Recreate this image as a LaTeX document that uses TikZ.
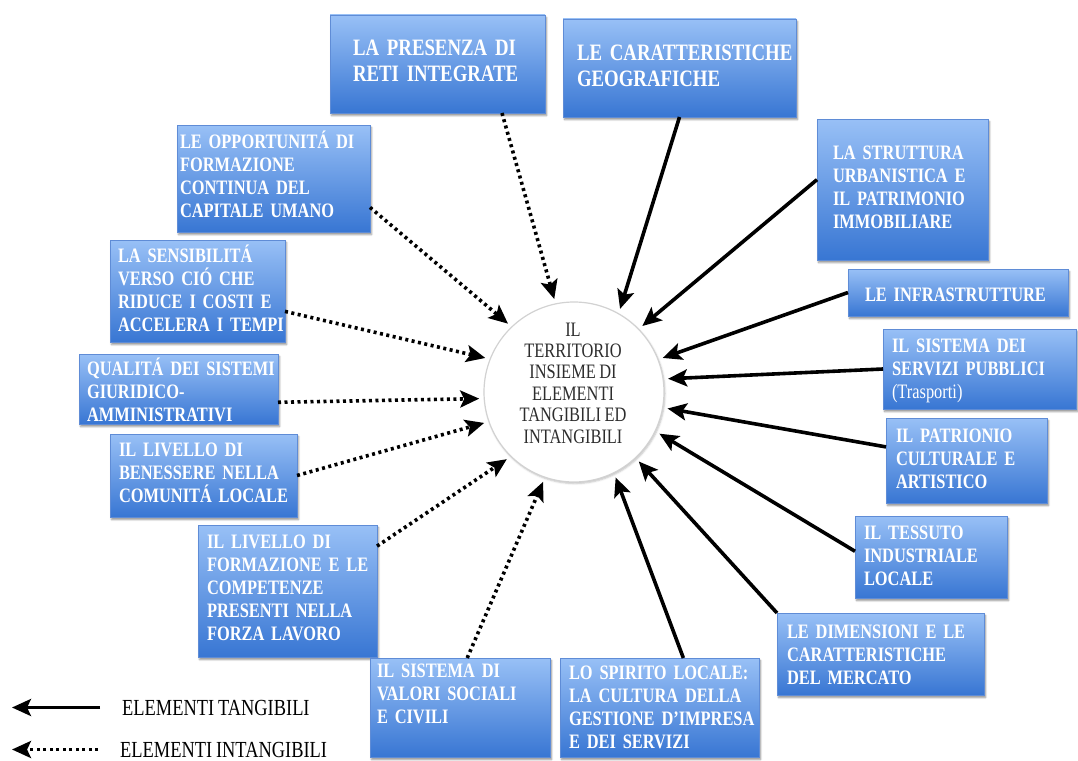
\documentclass[tikz,border=0pt]{standalone}
\usepackage{fontspec}
\setmainfont{Liberation Serif}
\newfontfamily\dfont{Liberation Serif}[FakeStretch=0.8, WordSpace=0.85]
\usetikzlibrary{arrows.meta,calc,shadows.blur}
\definecolor{boxtop}{RGB}{152,192,246}
\definecolor{boxbot}{RGB}{56,118,211}
\definecolor{boxedge}{RGB}{95,140,214}
\definecolor{ctxt}{RGB}{45,45,45}
\begin{document}
\begin{tikzpicture}[x=1pt,y=-1pt,
  box/.style={rectangle, anchor=north west, inner sep=0pt, outer sep=0pt,
    top color=boxtop, bottom color=boxbot, draw=boxedge, line width=0.6pt,
    blur shadow={shadow xshift=1.5pt, shadow yshift=-2.5pt, shadow opacity=45, shadow blur steps=4}},
  btxt/.style={anchor=base west, inner sep=0pt, outer sep=0pt, text=white, align=left,
    font=\dfont\bfseries\fontsize{20.5}{23}\selectfont},
  btxtL/.style={btxt, font=\dfont\bfseries\fontsize{23.5}{26}\selectfont},
  tang/.style={line width=3.6pt, -{Stealth[length=19pt,width=17pt,inset=4pt]}},
  intang/.style={tang, dash pattern=on 3pt off 3.5pt},
  legtxt/.style={anchor=base west, inner sep=0pt, text=black, font=\dfont\fontsize{23}{24}\selectfont},
]
\useasboundingbox (0,0) rectangle (1078,760);

% centre
\node[circle, minimum size=180pt, inner sep=0pt, outer sep=5pt, fill=white, draw=gray!35, line width=1.2pt,
  blur shadow={shadow xshift=1pt, shadow yshift=-1.5pt, shadow opacity=25, shadow blur steps=4}] (c) at (574,392) {};
\node[anchor=center, inner sep=0pt, align=center, text=ctxt, font=\dfont\fontsize{20.5}{21.4}\selectfont] (ct) at (573,383)
  {IL\\TERRITORIO\\INSIEME DI\\ELEMENTI\\TANGIBILI ED\\INTANGIBILI};

% boxes
\node[box, minimum width=215pt, minimum height=98pt] (pres) at (330,15) {};
\node[btxtL, text width=192pt] (prest) at (353,56) {LA PRESENZA DI\\RETI INTEGRATE};

\node[box, minimum width=233pt, minimum height=98pt] (geo) at (563,19) {};
\node[btxtL, text width=219pt] (geot) at (577,60) {LE CARATTERISTICHE\\GEOGRAFICHE};

\node[box, minimum width=193pt, minimum height=107pt] (opp) at (177,125) {};
\node[btxt, text width=190pt] (oppt) at (180,148) {LE OPPORTUNITÁ DI\\FORMAZIONE\\CONTINUA DEL\\CAPITALE UMANO};

\node[box, minimum width=175pt, minimum height=102pt] (sens) at (110,240) {};
\node[btxt, text width=167pt] (senst) at (118,262) {LA SENSIBILITÁ\\VERSO CIÓ CHE\\RIDUCE I COSTI E\\ACCELERA I TEMPI};

\node[box, minimum width=199pt, minimum height=70pt] (qual) at (79,354) {};
\node[btxt, text width=191pt] (qualt) at (87,375) {QUALITÁ DEI SISTEMI\\GIURIDICO-\\AMMINISTRATIVI};

\node[box, minimum width=187pt, minimum height=83pt] (ben) at (110,434) {};
\node[btxt, text width=178pt] (bent) at (119,456) {IL LIVELLO DI\\BENESSERE NELLA\\COMUNITÁ LOCALE};

\node[box, minimum width=179pt, minimum height=132pt] (form) at (198,525) {};
\node[btxt, text width=170pt] (formt) at (207,548) {IL LIVELLO DI\\FORMAZIONE E LE\\COMPETENZE\\PRESENTI NELLA\\FORZA LAVORO};

\node[box, minimum width=180pt, minimum height=99pt] (val) at (370,658) {};
\node[btxt, text width=173pt] (valt) at (377,677) {IL SISTEMA DI\\VALORI SOCIALI\\E CIVILI};

\node[box, minimum width=199pt, minimum height=99pt] (spir) at (560,658) {};
\node[btxt, text width=190pt] (spirt) at (569,679) {LO SPIRITO LOCALE:\\LA CULTURA DELLA\\GESTIONE D’IMPRESA\\E DEI SERVIZI};

\node[box, minimum width=207pt, minimum height=82pt] (dim) at (777,613) {};
\node[btxt, text width=197pt] (dimt) at (787,638) {LE DIMENSIONI E LE\\CARATTERISTICHE\\DEL MERCATO};

\node[box, minimum width=152pt, minimum height=82pt] (tess) at (855,516) {};
\node[btxt, text width=143pt] (tesst) at (864,539) {IL TESSUTO\\INDUSTRIALE\\LOCALE};

\node[box, minimum width=161pt, minimum height=85pt] (patr) at (886,418) {};
\node[btxt, text width=151pt] (patrt) at (896,442) {IL PATRIONIO\\CULTURALE E\\ARTISTICO};

\node[box, minimum width=193pt, minimum height=80pt] (serv) at (883,329) {};
\node[btxt, text width=184pt] (servt) at (892,352) {IL SISTEMA DEI\\SERVIZI PUBBLICI\\\textmd{(Trasporti)}};

\node[box, minimum width=220pt, minimum height=47pt] (infr) at (848,269) {};
\node[btxt, text width=203pt] (infrt) at (865,301) {LE INFRASTRUTTURE};

\node[box, minimum width=171pt, minimum height=141pt] (str) at (817,119) {};
\node[btxt, text width=155pt] (strt) at (833,159) {LA STRUTTURA\\URBANISTICA E\\IL PATRIMONIO\\IMMOBILIARE};

% tangible (solid) connectors
\draw[tang] (geo.south) -- (c.61);
\draw[tang] ($(str.north west)!0.43!(str.south west)$) -- (c.44);
\draw[tang] (infr.west) -- (c.21);
\draw[tang] (serv.west) -- (c.8);
\draw[tang] ($(patr.north west)!0.34!(patr.south west)$) -- (c.350);
\draw[tang] ($(tess.north west)!0.43!(tess.south west)$) -- (c.334);
\draw[tang] (dim.north west) -- (c.313);
\draw[tang] ($(spir.north west)!0.62!(spir.north east)$) -- (c.296);

% intangible (dotted) connectors
\draw[intang] ($(pres.south west)!0.8!(pres.south east)$) -- (c.102);
\draw[intang] ($(opp.north east)!0.77!(opp.south east)$) -- (c.134);
\draw[intang] ($(sens.north east)!0.7!(sens.south east)$) -- (c.159);
\draw[intang] ($(qual.north east)!0.69!(qual.south east)$) -- (c.184);
\draw[intang] (ben.east) -- (c.199);
\draw[intang] ($(form.north east)!0.16!(form.south east)$) -- (c.225);
\draw[intang] ($(val.north west)!0.54!(val.north east)$) -- (c.251);

% legend
\node[legtxt] (lt1) at (122,715) {ELEMENTI TANGIBILI};
\node[legtxt] (lt2) at (120,757) {ELEMENTI INTANGIBILI};
\draw[tang] ([xshift=-22pt]lt1.west) -- ([xshift=-110pt]lt1.west);
\draw[intang] ([xshift=-22pt]lt2.west) -- ([xshift=-108pt]lt2.west);
\end{tikzpicture}
\end{document}
